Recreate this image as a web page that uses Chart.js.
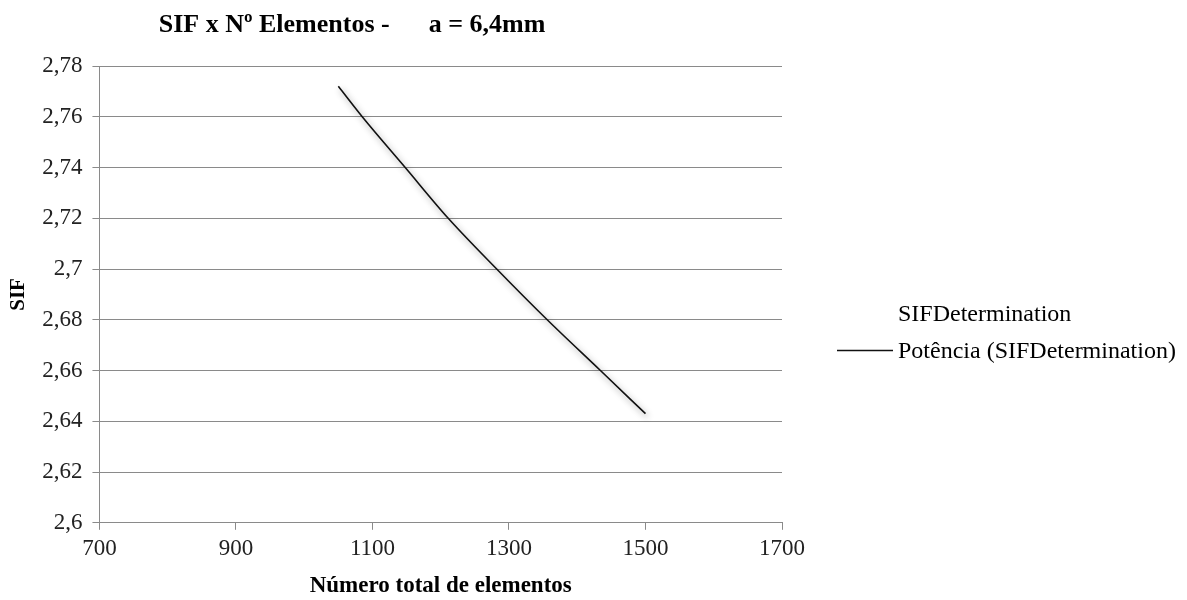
<!DOCTYPE html>
<html>
<head>
<meta charset="utf-8">
<script src="https://cdn.jsdelivr.net/npm/chart.js@4.4.1/dist/chart.umd.min.js"></script>
<style>
    body { margin: 0; background: #fff; }
    #wrap { width: 1187px; height: 600px; position: relative; }
</style>
</head>
<body>
<div id="wrap"><canvas id="sifChart"></canvas></div>
<script>
// Valores
const elementos = [1050, 1500];
const sifValores = [2.772, 2.643];

// Linha de tendência (Potência) lida ao longo da curva
const trendElementos = [1050, 1085, 1148, 1211, 1282, 1356, 1434, 1500];
const trendSif = [2.772, 2.76, 2.74, 2.72, 2.70, 2.68, 2.66, 2.643];

const xTicks = [700, 900, 1100, 1300, 1500, 1700];
const yTicks = [2.6, 2.62, 2.64, 2.66, 2.68, 2.7, 2.72, 2.74, 2.76, 2.78];

const tituloGrafico = 'SIF x Nº Elementos -      a = 6,4mm';

const serif = '"Liberation Serif", "Times New Roman", serif';
const gridColor = '#8a8a8a';

const fmt = v => String(Math.round(v * 100) / 100).replace('.', ',');

// sombra da linha
const shadowPlugin = {
    id: 'lineShadow',
    beforeDatasetDraw(chart) {
        const ctx = chart.ctx;
        ctx.save();
        ctx.shadowColor = 'rgba(0,0,0,0.45)';
        ctx.shadowBlur = 6;
        ctx.shadowOffsetX = 2;
        ctx.shadowOffsetY = 3;
    },
    afterDatasetDraw(chart) {
        chart.ctx.restore();
    }
};

// título e legenda à direita
const sideLegend = {
    id: 'sideLegend',
    afterDraw(chart) {
        const { ctx, chartArea } = chart;
        ctx.save();
        ctx.fillStyle = '#000';
        ctx.textBaseline = 'middle';

        ctx.font = 'bold 26px ' + serif;
        ctx.textAlign = 'center';
        ctx.fillText(tituloGrafico, 352, 25);

        ctx.textAlign = 'left';
        ctx.font = '24px ' + serif;
        const x0 = chartArea.right + 55;
        const midY = (chartArea.top + chartArea.bottom) / 2;
        chart.data.datasets.forEach((ds, i) => {
            const y = midY + 19 + i * 37;
            if (ds.showLine !== false) {
                ctx.strokeStyle = ds.borderColor;
                ctx.lineWidth = 1.5;
                ctx.beginPath();
                ctx.moveTo(x0, y);
                ctx.lineTo(x0 + 56, y);
                ctx.stroke();
            }
            ctx.fillText(ds.label, x0 + 61, y + 1);
        });
        ctx.restore();
    }
};

new Chart(document.getElementById('sifChart'), {
    type: 'line',
    data: {
        datasets: [
            {
                label: 'SIFDetermination',
                data: elementos.map((x, i) => ({ x, y: sifValores[i] })),
                showLine: false,
                pointRadius: 0,
                borderColor: '#000'
            },
            {
                label: 'Potência (SIFDetermination)',
                data: trendElementos.map((x, i) => ({ x, y: trendSif[i] })),
                borderColor: '#111',
                borderWidth: 1.6,
                pointRadius: 0,
                tension: 0.4,
                cubicInterpolationMode: 'monotone',
                fill: false
            }
        ]
    },
    options: {
        responsive: true,
        maintainAspectRatio: false,
        animation: false,
        layout: { padding: { left: 0, right: 405, top: 66, bottom: 0 } },
        plugins: {
            legend: { display: false },
            tooltip: { enabled: false },
            title: { display: false }
        },
        scales: {
            x: {
                type: 'linear',
                min: xTicks[0],
                max: xTicks[xTicks.length - 1],
                afterBuildTicks: s => { s.ticks = xTicks.map(v => ({ value: v })); },
                ticks: {
                    color: '#222',
                    font: { family: serif, size: 23 },
                    padding: 5,
                    maxRotation: 0,
                    callback: v => String(v)
                },
                grid: { drawOnChartArea: false, color: gridColor, tickLength: 7 },
                border: { color: gridColor },
                title: {
                    display: true,
                    text: 'Número total de elementos',
                    color: '#000',
                    font: { family: serif, size: 23, weight: 'bold' },
                    padding: { top: 5, bottom: 0 }
                }
            },
            y: {
                min: yTicks[0],
                max: yTicks[yTicks.length - 1],
                afterBuildTicks: s => { s.ticks = yTicks.map(v => ({ value: v })); },
                ticks: {
                    color: '#222',
                    font: { family: serif, size: 23 },
                    padding: 10,
                    callback: v => fmt(v)
                },
                grid: { color: gridColor, tickLength: 7 },
                border: { color: gridColor },
                title: {
                    display: true,
                    text: 'SIF',
                    color: '#000',
                    font: { family: serif, size: 21, weight: 'bold' },
                    padding: { top: 6, bottom: 1 }
                }
            }
        }
    },
    plugins: [shadowPlugin, sideLegend]
});
</script>
</body>
</html>
